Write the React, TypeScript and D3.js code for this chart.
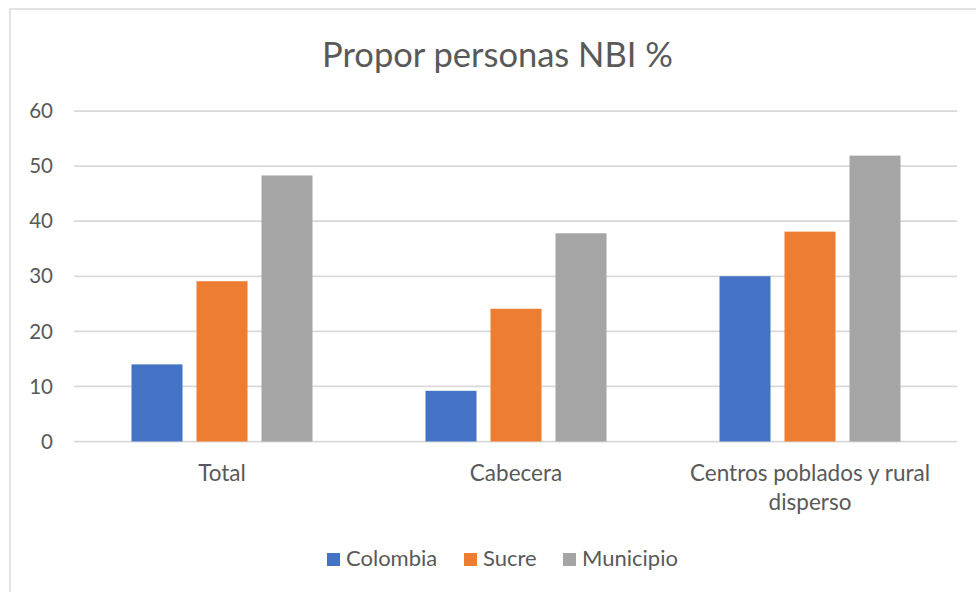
import React, { useEffect, useRef } from "react";
import * as d3 from "d3";

const categories = ["Total", "Cabecera", "Centros poblados y rural disperso"];
const series = ["Colombia", "Sucre", "Municipio"];
const colombia = [14, 9.2, 30.0];
const sucre = [29.1, 24.1, 38.1];
const municipio = [48.3, 37.8, 51.9];
const yTickValues = [0, 10, 20, 30, 40, 50, 60];

const colors = ["#4472C4", "#ED7D31", "#A5A5A5"];
const FONT = "Lato, 'Open Sans', sans-serif";
const TEXT = "#595959";

const App = () => {
  const svgRef = useRef<SVGSVGElement | null>(null);

  useEffect(() => {
    const width = 976;
    const height = 592;
    const margin = { top: 111, right: 19, bottom: 150.5, left: 75 };

    const svg = d3.select(svgRef.current);
    svg.selectAll("*").remove();
    svg.attr("width", width).attr("height", height);

    svg
      .append("rect")
      .attr("width", width)
      .attr("height", height)
      .attr("fill", "#fff");

    // chart border (runs off the right/bottom edge)
    svg
      .append("rect")
      .attr("x", 10)
      .attr("y", 9)
      .attr("width", 1000)
      .attr("height", 700)
      .attr("fill", "none")
      .attr("stroke", "#d9d9d9")
      .attr("stroke-width", 1.5);

    const values = [colombia, sucre, municipio];
    const rows = categories.map((c, i) => ({
      cat: c,
      vals: series.map((s, j) => ({ key: s, value: values[j][i] })),
    }));

    const x0 = d3
      .scaleBand()
      .domain(categories)
      .range([margin.left, width - margin.right]);

    const group = x0.bandwidth();
    const outer = (group - 181) / 2;
    const x1 = d3
      .scaleBand()
      .domain(series)
      .range([outer, group - outer])
      .paddingInner(14 / 65)
      .paddingOuter(0);

    const y = d3
      .scaleLinear()
      .domain([0, 60])
      .range([height - margin.bottom, margin.top]);

    const color = d3.scaleOrdinal<string>().domain(series).range(colors);

    // gridlines
    svg
      .append("g")
      .selectAll("line")
      .data(yTickValues)
      .join("line")
      .attr("x1", margin.left - 1)
      .attr("x2", width - margin.right)
      .attr("y1", (d) => y(d))
      .attr("y2", (d) => y(d))
      .attr("stroke", "#d9d9d9")
      .attr("stroke-width", 1.75);

    // y tick labels
    svg
      .append("g")
      .selectAll("text")
      .data(yTickValues)
      .join("text")
      .attr("x", 53)
      .attr("y", (d) => y(d))
      .attr("dy", "0.35em")
      .attr("text-anchor", "end")
      .style("font-family", FONT)
      .style("font-size", "20.5px")
      .attr("fill", TEXT)
      .text((d) => d);

    // bars
    svg
      .append("g")
      .selectAll("g")
      .data(rows)
      .join("g")
      .attr("transform", (d) => `translate(${x0(d.cat)},0)`)
      .selectAll("rect")
      .data((d) => d.vals)
      .join("rect")
      .attr("x", (d) => x1(d.key) as number)
      .attr("y", (d) => y(d.value))
      .attr("width", x1.bandwidth())
      .attr("height", (d) => y(0) - y(d.value))
      .attr("fill", (d) => color(d.key));

    // category labels (wrap the long one)
    const labelLines: Record<string, string[]> = {
      "Centros poblados y rural disperso": ["Centros poblados y rural", "disperso"],
    };
    const xl = svg.append("g");
    categories.forEach((c) => {
      const lines = labelLines[c] || [c];
      const cx = (x0(c) as number) + group / 2;
      lines.forEach((ln, i) => {
        xl.append("text")
          .attr("x", cx)
          .attr("y", 481 + i * 29)
          .attr("text-anchor", "middle")
          .style("font-family", FONT)
          .style("font-size", "22.5px")
          .attr("fill", TEXT)
          .text(ln);
      });
    });

    // title
    svg
      .append("text")
      .attr("x", 497.5)
      .attr("y", 67)
      .attr("text-anchor", "middle")
      .style("font-family", FONT)
      .style("font-size", "34.5px")
      .attr("fill", TEXT)
      .text("Propor personas NBI %");

    // legend
    const legendX = [327, 464, 563];
    const legend = svg.append("g");
    series.forEach((s, i) => {
      const row = legend.append("g").attr("transform", `translate(${legendX[i]},553)`);
      row
        .append("rect")
        .attr("width", 13)
        .attr("height", 13)
        .attr("fill", color(s));
      row
        .append("text")
        .attr("x", 19)
        .attr("y", 13)
        .style("font-family", FONT)
        .style("font-size", "22px")
        .attr("fill", TEXT)
        .text(s);
    });
  }, []);

  return (
    <div style={{ position: "absolute", left: 0, top: 0 }}>
      <svg ref={svgRef}></svg>
    </div>
  );
};

export default App;
